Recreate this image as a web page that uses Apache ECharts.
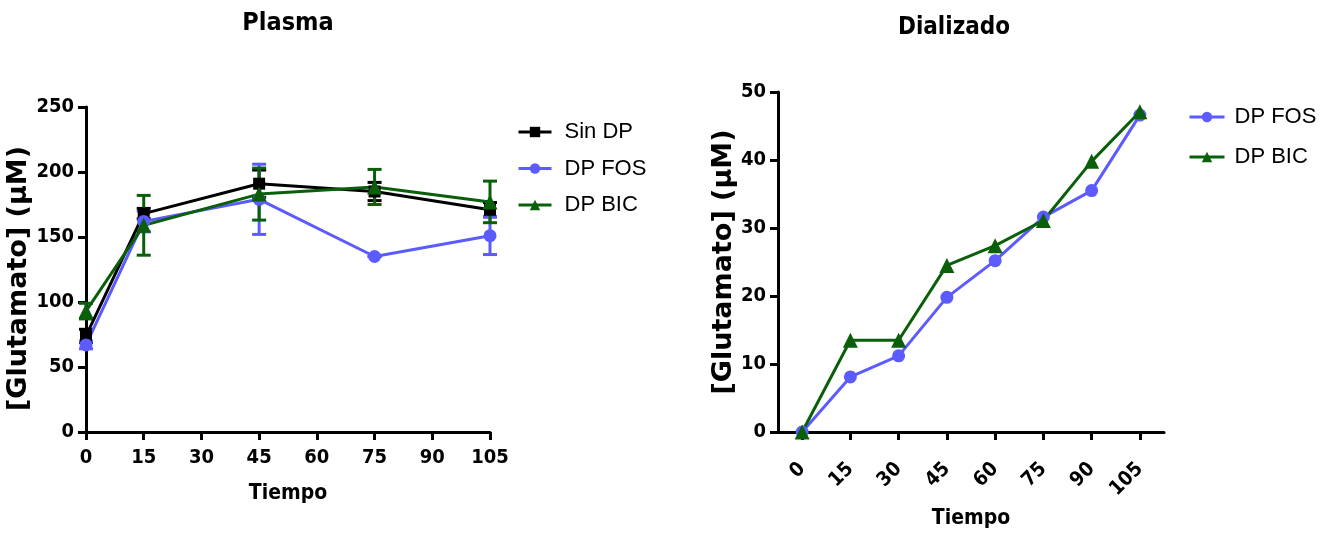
<!DOCTYPE html>
<html>
<head>
<meta charset="utf-8">
<script src="https://cdn.jsdelivr.net/npm/echarts@6/dist/echarts.min.js"></script>
<style>
  html, body { margin: 0; padding: 0; background: #fff; }
  #chart { width: 1325px; height: 535px; }
</style>
</head>
<body>
<div id="chart"></div>
<script>
// Glutamate concentration over time: plasma (mean ± error) and dialysate
const plasmaTimes = [0, 15, 45, 75, 105];
const plasmaSinDP = [74, 168, 191, 185, 171];
const plasmaSinDPErr = [5, 4, 10.5, 7, 5.5];
const plasmaFOS = [67, 162, 179, 135, 151];
const plasmaFOSErr = [3, 8, 27, 0, 14.5];
const plasmaBIC = [93, 159, 183, 188.5, 177];
const plasmaBICErr = [6, 23, 20, 13.5, 16];

const dialTimes = ['0', '15', '30', '45', '60', '75', '90', '105'];
const dialFOS = [0, 8.1, 11.2, 19.8, 25.2, 31.6, 35.5, 46.6];
const dialBIC = [0, 13.5, 13.5, 24.5, 27.4, 31.1, 39.8, 47.1];

const BLACK = '#000000';
const BLUE = '#5b5bff';
const GREEN = '#0a5f0a';
const NARROW = "'DejaVu Sans Condensed', 'Liberation Sans', Arial, sans-serif";
const WIDE = "'DejaVu Sans', 'Liberation Sans', Arial, sans-serif";
const PLAIN = "'Liberation Sans', Arial, sans-serif";

function pairs(xs, ys) { return xs.map((x, i) => [x, ys[i]]); }
function errRows(xs, ys, es) { return xs.map((x, i) => [x, ys[i] - es[i], ys[i] + es[i]]); }

// vertical error bar with caps, placed through the axis scales
function errorBars(name, color, rows) {
  return {
    type: 'custom',
    name: name,
    xAxisIndex: 0, yAxisIndex: 0,
    data: rows,
    encode: { x: 0, y: [1, 2] },
    itemStyle: { color: color },
    z: 1,
    silent: true,
    renderItem: function (params, api) {
      const x = api.value(0);
      const lo = api.coord([x, api.value(1)]);
      const hi = api.coord([x, api.value(2)]);
      const half = 7;
      const style = { stroke: color, lineWidth: 3, fill: null };
      return {
        type: 'group',
        children: [
          { type: 'line', shape: { x1: lo[0], y1: lo[1], x2: hi[0], y2: hi[1] }, style: style },
          { type: 'line', shape: { x1: lo[0] - half, y1: lo[1], x2: lo[0] + half, y2: lo[1] }, style: style },
          { type: 'line', shape: { x1: hi[0] - half, y1: hi[1], x2: hi[0] + half, y2: hi[1] }, style: style }
        ]
      };
    }
  };
}

function lineSeries(name, color, symbol, size, data, xi, yi) {
  return {
    type: 'line',
    name: name,
    xAxisIndex: xi, yAxisIndex: yi,
    data: data,
    symbol: symbol,
    symbolSize: size,
    showAllSymbol: true,
    lineStyle: { color: color, width: 3 },
    itemStyle: { color: color },
    z: 3,
    animation: false
  };
}

const axisLine = { show: true, lineStyle: { color: '#000', width: 3 } };
const axisTick = { show: true, length: 8, lineStyle: { color: '#000', width: 3 } };
const tickLabel = { color: '#000', fontFamily: NARROW, fontWeight: 'bold', fontSize: 20 };
const nameStyle = { color: '#000', fontFamily: NARROW, fontWeight: 'bold', fontSize: 21 };
const yNameStyle = { color: '#000', fontFamily: WIDE, fontWeight: 'bold', fontSize: 27 };
const legendText = { fontFamily: PLAIN, fontSize: 22, color: '#000' };

const chart = echarts.init(document.getElementById('chart'), null, { renderer: 'canvas' });
chart.setOption({
  animation: false,
  backgroundColor: '#fff',
  title: [
    { text: 'Plasma', left: 283, top: 6, textAlign: 'center',
      textStyle: { fontFamily: NARROW, fontWeight: 'bold', fontSize: 25, color: '#000' } },
    { text: 'Dializado', left: 949, top: 11, textAlign: 'center',
      textStyle: { fontFamily: NARROW, fontWeight: 'bold', fontSize: 24, color: '#000' } }
  ],
  legend: [
    { data: ['Sin DP', 'DP FOS', 'DP BIC'], orient: 'vertical', left: 512, top: 116,
      itemWidth: 33, itemHeight: 13, itemGap: 14.5,
      lineStyle: { width: 3 },
      textStyle: Object.assign({ padding: [0, 0, 0, 8] }, legendText) },
    { data: ['DP FOS ', 'DP BIC '], orient: 'vertical', left: 1183, top: 101,
      itemWidth: 35, itemHeight: 13, itemGap: 18,
      lineStyle: { width: 3 },
      textStyle: Object.assign({ padding: [0, 0, 0, 5] }, legendText) }
  ],
  grid: [
    { left: 86, right: 835, top: 107, bottom: 103 },
    { left: 778, right: 161, top: 92, bottom: 103 }
  ],
  xAxis: [
    { type: 'value', gridIndex: 0, min: 0, max: 105, interval: 15,
      name: 'Tiempo', nameLocation: 'middle', nameGap: 51, nameTextStyle: nameStyle,
      axisLine: axisLine, axisTick: axisTick, splitLine: { show: false },
      axisLabel: Object.assign({ margin: 16 }, tickLabel) },
    { type: 'category', gridIndex: 1, data: dialTimes, boundaryGap: true,
      name: 'Tiempo', nameLocation: 'middle', nameGap: 76, nameTextStyle: nameStyle,
      axisLine: axisLine, axisTick: Object.assign({ alignWithLabel: true }, axisTick),
      splitLine: { show: false },
      axisLabel: Object.assign({ rotate: 45, margin: 34, interval: 0 }, tickLabel) }
  ],
  yAxis: [
    { type: 'value', gridIndex: 0, min: 0, max: 250, interval: 50,
      name: '[Glutamato] (µM)', nameLocation: 'middle', nameGap: 47,
      nameTextStyle: Object.assign({ padding: [0, 18, 0, 0] }, yNameStyle),
      axisLine: axisLine, axisTick: axisTick, splitLine: { show: false },
      axisLabel: Object.assign({ margin: 12 }, tickLabel) },
    { type: 'value', gridIndex: 1, min: 0, max: 50, interval: 10,
      name: '[Glutamato] (µM)', nameLocation: 'middle', nameGap: 30, nameTextStyle: yNameStyle,
      axisLine: axisLine, axisTick: axisTick, splitLine: { show: false },
      axisLabel: Object.assign({ margin: 12 }, tickLabel) }
  ],
  series: [
    errorBars('Sin DP error', BLACK, errRows(plasmaTimes, plasmaSinDP, plasmaSinDPErr)),
    errorBars('DP FOS error', BLUE, errRows(plasmaTimes, plasmaFOS, plasmaFOSErr)),
    errorBars('DP BIC error', GREEN, errRows(plasmaTimes, plasmaBIC, plasmaBICErr)),
    lineSeries('Sin DP', BLACK, 'rect', 12, pairs(plasmaTimes, plasmaSinDP), 0, 0),
    lineSeries('DP FOS', BLUE, 'circle', 13, pairs(plasmaTimes, plasmaFOS), 0, 0),
    lineSeries('DP BIC', GREEN, 'triangle', 15, pairs(plasmaTimes, plasmaBIC), 0, 0),
    lineSeries('DP FOS ', BLUE, 'circle', 13, dialFOS, 1, 1),
    lineSeries('DP BIC ', GREEN, 'triangle', 15, dialBIC, 1, 1)
  ]
});
</script>
</body>
</html>
